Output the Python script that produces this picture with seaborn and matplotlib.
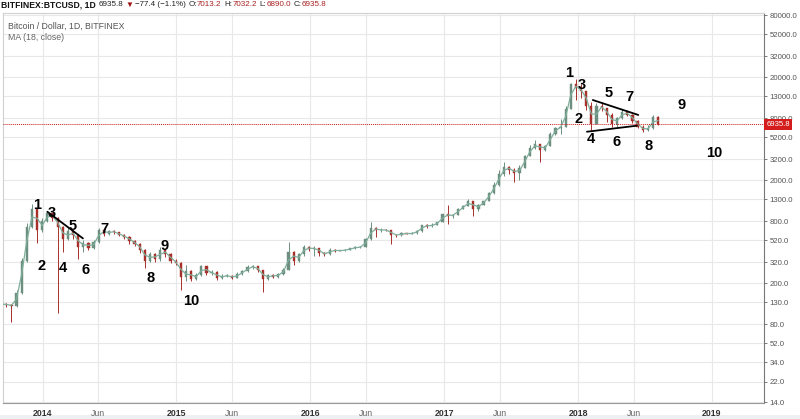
import numpy as np
import pandas as pd
import matplotlib
matplotlib.use("Agg")
import matplotlib.pyplot as plt
import matplotlib.dates as mdates
import matplotlib.transforms as mtrans
from matplotlib.patches import Rectangle
import seaborn as sns

# ---------------- data (~2-week candles) ----------------
start_date = "2013-09-10"
period_days = 14
closes = [125, 123, 120, 160, 330, 700, 1050, 650, 800, 950,
          850, 700, 530, 640, 580, 450, 490, 440, 500, 660,
          600, 640, 620, 580, 560, 510, 480, 420, 330, 380,
          340, 420, 380, 330, 315, 230, 260, 220, 240, 290,
          250, 255, 225, 235, 235, 225, 245, 260, 285, 290,
          265, 220, 240, 230, 245, 270, 400, 330, 380, 450,
          425, 440, 390, 380, 420, 410, 415, 420, 435, 445,
          450, 530, 690, 650, 660, 650, 590, 580, 610, 600,
          610, 640, 730, 710, 740, 780, 930, 900, 920, 1050,
          1120, 1250, 1050, 1150, 1250, 1500, 1800, 2300, 2700, 2500,
          2350, 2600, 3400, 4100, 4500, 3900, 4300, 5600, 6400, 6600,
          9900, 17000, 15500, 14500, 10500, 7000, 10500, 10000, 8500, 7000,
          8000, 9200, 8600, 7500, 6600, 6100, 6400, 8200, 6935.8]
highs = [130, 128, 126, 170, 350, 760, 1160, 1000, 850, 1000,
         960, 880, 720, 700, 660, 600, 520, 500, 520, 680,
         670, 660, 650, 630, 600, 570, 520, 490, 430, 400,
         390, 450, 430, 390, 340, 320, 300, 270, 250, 300,
         295, 265, 260, 245, 245, 240, 255, 268, 300, 300,
         295, 270, 245, 245, 250, 280, 500, 410, 390, 470,
         460, 460, 440, 400, 440, 425, 420, 425, 440, 460,
         460, 550, 780, 700, 690, 670, 660, 600, 620, 615,
         620, 650, 740, 750, 760, 790, 940, 1150, 930, 1070,
         1140, 1300, 1260, 1170, 1260, 1520, 1900, 2500, 3000, 2750,
         2600, 2800, 3500, 4400, 4900, 4500, 4400, 5800, 6500, 7800,
         10500, 17500, 19000, 17200, 14800, 11500, 11300, 11500, 10000, 9000,
         8200, 9900, 9600, 8700, 7700, 6800, 6800, 8500, 8400]
lows = [118, 118, 84, 118, 158, 320, 680, 490, 620, 780,
        800, 103, 400, 520, 540, 340, 400, 420, 430, 490,
        570, 590, 600, 570, 540, 480, 460, 390, 280, 320,
        320, 330, 360, 310, 300, 170, 210, 210, 215, 235,
        240, 240, 215, 220, 228, 220, 222, 240, 255, 275,
        258, 165, 215, 225, 225, 240, 265, 300, 320, 370,
        410, 370, 370, 365, 375, 400, 405, 410, 415, 430,
        435, 445, 520, 560, 630, 640, 480, 560, 570, 595,
        595, 605, 630, 680, 700, 735, 775, 750, 860, 910,
        1040, 1110, 900, 1000, 1140, 1240, 1450, 1750, 2200, 2300,
        1900, 2000, 2600, 3400, 4000, 3000, 3800, 4300, 5500, 5600,
        6600, 9800, 12000, 12500, 9500, 6000, 7000, 9400, 7400, 6500,
        6600, 7900, 8300, 7100, 6400, 5800, 6000, 6300, 6900]
last_price = 6935.8

y_ticks = [14, 22, 34, 52, 80, 130, 200, 320, 520, 800, 1300, 2000,
           3200, 5200, 8000, 13000, 20000, 32000, 52000, 80000]
x_tick_dates = ["2014-01-01", "2014-06-01", "2015-01-01", "2015-06-01",
                "2016-01-01", "2016-06-01", "2017-01-01", "2017-06-01",
                "2018-01-01", "2018-06-01", "2019-01-01"]
x_tick_labels = ["2014", "Jun", "2015", "Jun", "2016", "Jun", "2017", "Jun",
                 "2018", "Jun", "2019"]

wave_texts = ["1", "2", "3", "4", "5", "6", "7", "8", "9", "10",
              "1", "2", "3", "4", "5", "6", "7", "8", "9", "10"]
wave_dates = ["2013-12-16", "2013-12-29", "2014-01-25", "2014-02-24", "2014-03-23",
              "2014-04-28", "2014-06-19", "2014-10-22", "2014-11-29", "2015-02-11",
              "2017-12-07", "2018-01-01", "2018-01-12", "2018-02-05", "2018-03-24",
              "2018-04-15", "2018-05-20", "2018-07-11", "2018-10-09", "2019-01-07"]
wave_prices = [1140, 293, 957, 280, 715, 268, 669, 224, 457, 134,
               21800, 7820, 16700, 5000, 14000, 4680, 12800, 4270, 10700, 3660]

trend_start_dates = ["2014-01-14", "2018-02-10", "2018-01-25"]
trend_start_prices = [985, 11970, 5890]
trend_end_dates = ["2014-04-21", "2018-06-14", "2018-06-10"]
trend_end_prices = [543, 8570, 6740]

header_texts = ["BITFINEX:BTCUSD, 1D", "6935.8", "\u25bc", "\u221277.4 (\u22121.1%)",
                "O:", "7013.2", "H:", "7032.2", "L:", "6890.0", "C:", "6935.8"]
header_colors = ["#111111", "#222222", "#a01010", "#222222",
                 "#222222", "#a82020", "#222222", "#a82020",
                 "#222222", "#a82020", "#222222", "#a82020"]

# ---------------- frame ----------------
dates = pd.date_range(start_date, periods=len(closes), freq=f"{period_days}D")
opens = [closes[0]] + closes[:-1]
df = pd.DataFrame({"date": dates, "open": opens, "high": highs,
                   "low": lows, "close": closes})
df["ma"] = df["close"].rolling(2, min_periods=1).mean()
df["x"] = mdates.date2num(df["date"])

sns.set_theme(style="white")
plt.rcParams["font.family"] = ["Liberation Sans", "DejaVu Sans"]

W, H = 800, 419
fig = plt.figure(figsize=(8, 4.19), dpi=100)
fig.patch.set_facecolor("white")
fig.patches.append(Rectangle((0, 0), 1, 4 / H, transform=fig.transFigure,
                             facecolor="#eef0f3", edgecolor="none", zorder=-5))

ax = fig.add_axes([3 / W, 1 - 403 / H, (764 - 3) / W, (403 - 13) / H])
ax.set_yscale("log")
ax.set_ylim(13.7, 83700)
ax.set_xlim(mdates.date2num(pd.Timestamp("2013-09-15")),
            mdates.date2num(pd.Timestamp("2019-05-23")))

# grid
for d in x_tick_dates:
    ax.axvline(mdates.date2num(pd.Timestamp(d)), color="#e8e8e8", lw=0.8, zorder=0)
for t in y_ticks:
    ax.axhline(t, color="#e8e8e8", lw=0.8, zorder=0)

up_c, down_c = "#6c8f7f", "#a8302b"
up = df["close"] >= df["open"]
cols = np.where(up, up_c, down_c)
ax.vlines(df["x"], df["low"], df["high"], colors=cols, lw=0.7, zorder=2)
body_lo = np.minimum(df["open"], df["close"])
body_hi = np.maximum(df["open"], df["close"])
body_h = np.maximum(body_hi - body_lo, body_hi * 0.01)
ax.bar(df["x"], body_h, bottom=body_lo, width=6, color=cols,
       edgecolor=cols, linewidth=0.3, zorder=3)

sns.lineplot(data=df, x="x", y="ma", ax=ax, color="#7fae9c", lw=0.9,
             zorder=4, legend=False)

# last price line and label
ax.axhline(last_price, color="#c81818", lw=0.7, ls=(0, (1, 1)), zorder=5)
trans = mtrans.blended_transform_factory(ax.transAxes, ax.transData)
ax.text(1.003, last_price, f"{last_price:.1f}", transform=trans, color="white",
        fontsize=5.6, va="center", ha="left", zorder=10, clip_on=False,
        bbox=dict(boxstyle="square,pad=0.3", fc="#d41c1c", ec="none"))

# trend lines
for sd, sp, ed, ep in zip(trend_start_dates, trend_start_prices,
                          trend_end_dates, trend_end_prices):
    ax.plot([mdates.date2num(pd.Timestamp(sd)), mdates.date2num(pd.Timestamp(ed))],
            [sp, ep], color="black", lw=1.3, zorder=6)

# wave labels
for t, d, p in zip(wave_texts, wave_dates, wave_prices):
    ax.text(mdates.date2num(pd.Timestamp(d)), p, t, fontsize=10.5,
            fontweight="bold", color="black", ha="center", va="center", zorder=7)

# axes styling
ax.yaxis.tick_right()
ax.set_yticks(y_ticks)
ax.set_yticklabels([f"{t:.1f}" for t in y_ticks])
ax.yaxis.set_minor_locator(matplotlib.ticker.NullLocator())
ax.tick_params(axis="y", which="major", right=True, length=2.5, width=0.6,
               color="#666666", labelsize=5.6, labelcolor="#555555", pad=1.5)
ax.set_xticks([mdates.date2num(pd.Timestamp(d)) for d in x_tick_dates])
ax.set_xticklabels(x_tick_labels)
ax.tick_params(axis="x", length=0, labelsize=6.3, labelcolor="#444444", pad=4)
for lab, txt in zip(ax.get_xticklabels(), x_tick_labels):
    if txt != "Jun":
        lab.set_fontweight("bold")
        lab.set_color("#333333")
    else:
        lab.set_color("#666666")
ax.set_xlabel("")
ax.set_ylabel("")
for s in ["left", "top"]:
    ax.spines[s].set_color("#d0d0d0")
    ax.spines[s].set_linewidth(0.8)
ax.spines["right"].set_color("#777777")
ax.spines["right"].set_linewidth(0.8)
ax.spines["bottom"].set_color("#999999")
ax.spines["bottom"].set_linewidth(0.8)

# legend-like texts
fig.text(8 / W, 1 - 26 / H, "Bitcoin / Dollar, 1D, BITFINEX",
         fontsize=6.3, color="#555555", va="center", ha="left")
fig.text(8 / W, 1 - 38 / H, "MA (18, close)",
         fontsize=6.3, color="#666666", va="center", ha="left")

# header, laid out piece by piece so nothing overlaps
renderer = fig.canvas.get_renderer()
hy = 1 - 5 / H
cur = 1.0
gaps = [2.5, 2, 2, 2.5, 0.3, 2.5, 0.3, 2.5, 0.3, 2.5, 0.3, 0]
for i, (txt, c) in enumerate(zip(header_texts, header_colors)):
    w = "bold" if i == 0 else "normal"
    fs = 6.2 if i == 0 else 5.8
    t = fig.text(cur / W, hy, txt, fontsize=fs, color=c, fontweight=w,
                 va="center", ha="left")
    bb = t.get_window_extent(renderer)
    cur = bb.x1 + gaps[i]

fig.savefig("out.png", dpi=100)
